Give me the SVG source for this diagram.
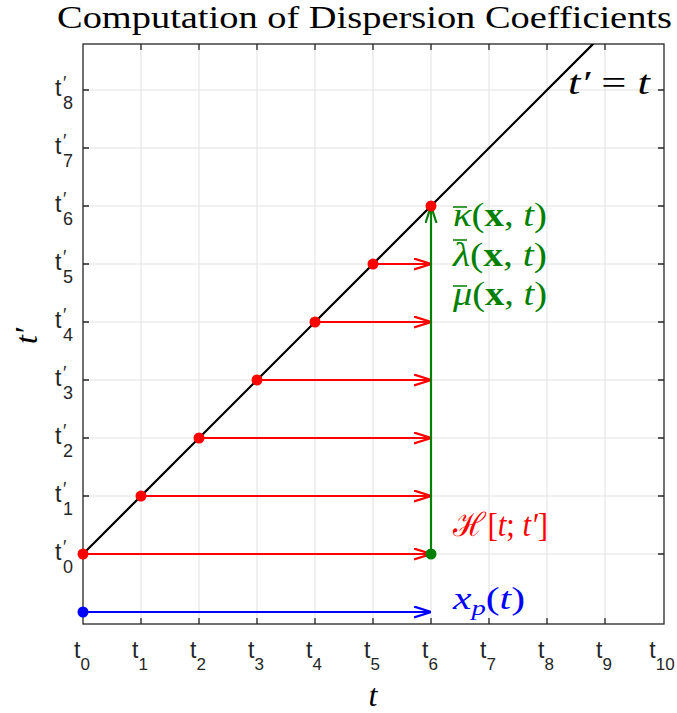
<svg xmlns="http://www.w3.org/2000/svg" width="677" height="713" viewBox="0 0 677 713">
<style>
.grid{stroke:#e1e1e1;stroke-width:1;fill:none}
.box{stroke:#262626;stroke-width:1.3;fill:none}
.tick{stroke:#262626;stroke-width:1.3}
.tl{font-family:"Liberation Sans","DejaVu Sans",Arial,sans-serif;fill:#262626}
.tm{font-size:23px}
.ts{font-size:18px}
.tx{font-size:17px}
.math{font-family:"Liberation Serif","DejaVu Serif","Times New Roman",serif}
.it{font-style:italic}
.red{stroke:#ff0000;stroke-width:2.2;fill:none}
.grn{stroke:#008000;stroke-width:2.2;fill:none}
.blu{stroke:#0000ff;stroke-width:2.2;fill:none}
</style>
<defs>
<marker id="hr" viewBox="0 0 17 13" refX="17" refY="6.5" markerWidth="17" markerHeight="13" markerUnits="userSpaceOnUse" orient="auto"><path d="M0,1 L17,6.5 L0,12" fill="none" stroke="#ff0000" stroke-width="2.2"/></marker>
<marker id="hg" viewBox="0 0 17 13" refX="17" refY="6.5" markerWidth="17" markerHeight="13" markerUnits="userSpaceOnUse" orient="auto"><path d="M0,1 L17,6.5 L0,12" fill="none" stroke="#008000" stroke-width="2.2"/></marker>
<marker id="hb" viewBox="0 0 17 13" refX="17" refY="6.5" markerWidth="17" markerHeight="13" markerUnits="userSpaceOnUse" orient="auto"><path d="M0,1 L17,6.5 L0,12" fill="none" stroke="#0000ff" stroke-width="2.2"/></marker>
<clipPath id="ax"><rect x="83" y="44" width="581" height="580"/></clipPath>
</defs>
<rect width="677" height="713" fill="#ffffff"/>
<text id="title" class="math" x="57" y="28" font-size="31" textLength="615" lengthAdjust="spacingAndGlyphs" fill="#000">Computation of Dispersion Coefficients</text>
<g id="grid">
<path class="grid" d="M141,44V624M199,44V624M257,44V624M315,44V624M373,44V624M431,44V624M489,44V624M547,44V624M605,44V624"/>
<path class="grid" d="M83,554H664M83,496H664M83,438H664M83,380H664M83,322H664M83,264H664M83,206H664M83,148H664M83,90H664"/>
</g>
<g id="axes">
<rect class="box" x="83" y="44" width="581" height="580"/>
<path class="tick" d="M141,624v-6M199,624v-6M257,624v-6M315,624v-6M373,624v-6M431,624v-6M489,624v-6M547,624v-6M605,624v-6M141,44v6M199,44v6M257,44v6M315,44v6M373,44v6M431,44v6M489,44v6M547,44v6M605,44v6"/>
<path class="tick" d="M83,554h6M83,496h6M83,438h6M83,380h6M83,322h6M83,264h6M83,206h6M83,148h6M83,90h6M664,554h-6M664,496h-6M664,438h-6M664,380h-6M664,322h-6M664,264h-6M664,206h-6M664,148h-6M664,90h-6"/>
</g>
<g id="xticklabels" class="tl" text-anchor="middle">
<text x="82" y="658"><tspan class="tm">t</tspan><tspan class="tx" dy="12">0</tspan></text>
<text x="140" y="658"><tspan class="tm">t</tspan><tspan class="tx" dy="12">1</tspan></text>
<text x="198" y="658"><tspan class="tm">t</tspan><tspan class="tx" dy="12">2</tspan></text>
<text x="256" y="658"><tspan class="tm">t</tspan><tspan class="tx" dy="12">3</tspan></text>
<text x="314" y="658"><tspan class="tm">t</tspan><tspan class="tx" dy="12">4</tspan></text>
<text x="372" y="658"><tspan class="tm">t</tspan><tspan class="tx" dy="12">5</tspan></text>
<text x="430" y="658"><tspan class="tm">t</tspan><tspan class="tx" dy="12">6</tspan></text>
<text x="488" y="658"><tspan class="tm">t</tspan><tspan class="tx" dy="12">7</tspan></text>
<text x="546" y="658"><tspan class="tm">t</tspan><tspan class="tx" dy="12">8</tspan></text>
<text x="604" y="658"><tspan class="tm">t</tspan><tspan class="tx" dy="12">9</tspan></text>
<text x="662" y="658"><tspan class="tm">t</tspan><tspan class="tx" dy="12">10</tspan></text>
</g>
<g id="yticklabels" class="tl">
<text x="55" y="560"><tspan class="tm">t</tspan><tspan class="ts" dx="1.5" dy="13">0</tspan><tspan class="ts" dx="-10" dy="-20">′</tspan></text>
<text x="55" y="502"><tspan class="tm">t</tspan><tspan class="ts" dx="1.5" dy="13">1</tspan><tspan class="ts" dx="-10" dy="-20">′</tspan></text>
<text x="55" y="444"><tspan class="tm">t</tspan><tspan class="ts" dx="1.5" dy="13">2</tspan><tspan class="ts" dx="-10" dy="-20">′</tspan></text>
<text x="55" y="386"><tspan class="tm">t</tspan><tspan class="ts" dx="1.5" dy="13">3</tspan><tspan class="ts" dx="-10" dy="-20">′</tspan></text>
<text x="55" y="328"><tspan class="tm">t</tspan><tspan class="ts" dx="1.5" dy="13">4</tspan><tspan class="ts" dx="-10" dy="-20">′</tspan></text>
<text x="55" y="270"><tspan class="tm">t</tspan><tspan class="ts" dx="1.5" dy="13">5</tspan><tspan class="ts" dx="-10" dy="-20">′</tspan></text>
<text x="55" y="212"><tspan class="tm">t</tspan><tspan class="ts" dx="1.5" dy="13">6</tspan><tspan class="ts" dx="-10" dy="-20">′</tspan></text>
<text x="55" y="154"><tspan class="tm">t</tspan><tspan class="ts" dx="1.5" dy="13">7</tspan><tspan class="ts" dx="-10" dy="-20">′</tspan></text>
<text x="55" y="96"><tspan class="tm">t</tspan><tspan class="ts" dx="1.5" dy="13">8</tspan><tspan class="ts" dx="-10" dy="-20">′</tspan></text>
</g>
<g id="axislabels" class="math it" font-size="32" fill="#000">
<text id="xlabel" x="373" y="706" text-anchor="middle">t</text>
<text id="ylabel" x="0" y="0" text-anchor="middle" transform="translate(37,336) rotate(-90)">t′</text>
</g>
<g id="connectors" clip-path="url(#ax)">
<line id="diag" x1="83" y1="554" x2="593.4" y2="43.6" stroke="#000" stroke-width="2.2"/>
<line class="red" x1="83" y1="554" x2="431" y2="554" marker-end="url(#hr)"/>
<line class="red" x1="141" y1="496" x2="431" y2="496" marker-end="url(#hr)"/>
<line class="red" x1="199" y1="438" x2="431" y2="438" marker-end="url(#hr)"/>
<line class="red" x1="257" y1="380" x2="431" y2="380" marker-end="url(#hr)"/>
<line class="red" x1="315" y1="322" x2="431" y2="322" marker-end="url(#hr)"/>
<line class="red" x1="373" y1="264" x2="431" y2="264" marker-end="url(#hr)"/>
<line class="grn" x1="431" y1="554" x2="431" y2="206" marker-end="url(#hg)"/>
<line class="blu" x1="83" y1="612" x2="431" y2="612" marker-end="url(#hb)"/>
</g>
<g id="points">
<circle cx="83" cy="554" r="5.5" fill="#ff0000"/>
<circle cx="141" cy="496" r="5.5" fill="#ff0000"/>
<circle cx="199" cy="438" r="5.5" fill="#ff0000"/>
<circle cx="257" cy="380" r="5.5" fill="#ff0000"/>
<circle cx="315" cy="322" r="5.5" fill="#ff0000"/>
<circle cx="373" cy="264" r="5.5" fill="#ff0000"/>
<circle cx="431" cy="206" r="5.5" fill="#ff0000"/>
<circle cx="431" cy="554" r="5.5" fill="#008000"/>
<circle cx="83" cy="612" r="5.5" fill="#0000ff"/>
</g>
<g id="labels" class="math" font-size="33">
<text id="lbl-diag" x="568" y="94" font-size="34" textLength="82" lengthAdjust="spacingAndGlyphs" fill="#000"><tspan class="it">t′</tspan> = <tspan class="it">t</tspan></text>
<g id="lbl-green" fill="#008000">
<text x="453" y="226" textLength="94" lengthAdjust="spacingAndGlyphs"><tspan class="it">κ</tspan>(<tspan font-weight="bold">x</tspan>, <tspan class="it">t</tspan>)</text>
<text x="453" y="266" textLength="94" lengthAdjust="spacingAndGlyphs"><tspan class="it">λ</tspan>(<tspan font-weight="bold">x</tspan>, <tspan class="it">t</tspan>)</text>
<text x="453" y="305" textLength="94" lengthAdjust="spacingAndGlyphs"><tspan class="it">μ</tspan>(<tspan font-weight="bold">x</tspan>, <tspan class="it">t</tspan>)</text>
<path d="M453,207H467M453,240H467M453,286H467" stroke="#008000" stroke-width="1.6"/>
</g>
<text id="lbl-red" x="453" y="536" textLength="95" lengthAdjust="spacingAndGlyphs" fill="#ff0000">ℋ<tspan dx="2">[</tspan><tspan class="it">t</tspan>; <tspan class="it">t′</tspan>]</text>
<text id="lbl-blue" x="453" y="609" font-size="32" textLength="72" lengthAdjust="spacingAndGlyphs" fill="#0000ff"><tspan class="it">x</tspan><tspan class="it" font-size="22" dy="6">p</tspan><tspan dy="-6">(</tspan><tspan class="it">t</tspan>)</text>
</g>
</svg>
